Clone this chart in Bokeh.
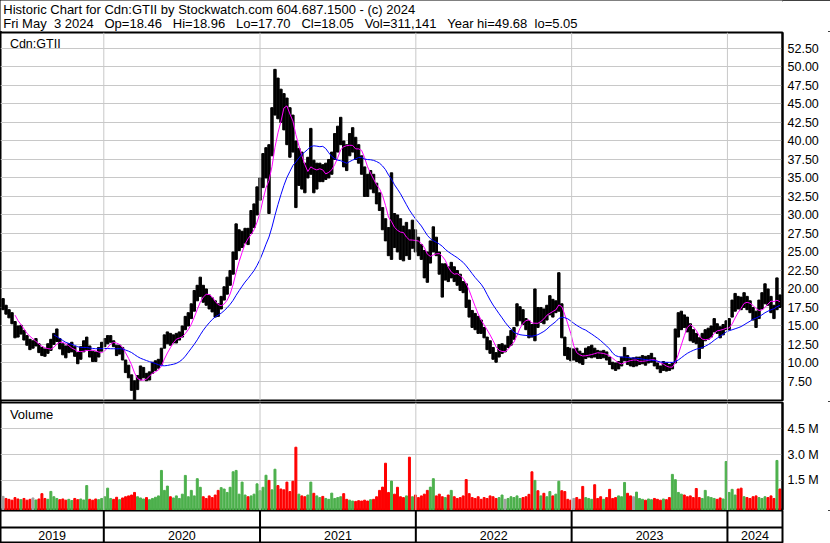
import re
import datetime as dt
import numpy as np
import pandas as pd
from bokeh.plotting import figure
from bokeh.layouts import column
from bokeh.models import (Range1d, FixedTicker, Span, Label, ColumnDataSource,
                          CustomJSTickFormatter, PrintfTickFormatter)
from bokeh.core.properties import value
from bokeh.embed import file_html
from bokeh.resources import INLINE

# ---------------- data (weekly bars) ----------------
first_week = "2019-05-10"   # Friday of the first weekly bar

high = [
    18.7, 17.8, 17.2, 16.8, 15.6, 15.0, 15.1, 14.4, 13.7, 13.2,
    13.0, 13.3, 12.6, 12.1, 11.9, 12.6, 13.2, 14.0, 14.6, 13.3,
    12.6, 12.3, 12.6, 12.8, 12.2, 11.4, 12.2, 13.0, 13.5, 12.3,
    11.6, 11.5, 12.1, 12.8, 13.3, 13.7, 13.7, 13.0, 12.4, 12.4,
    12.1, 10.4, 9.7, 8.4, 7.6, 8.3, 9.6, 9.4, 8.6, 8.8,
    10.1, 10.3, 10.5, 12.0, 13.8, 14.2, 14.0, 13.8, 14.0, 14.2,
    15.0, 16.3, 16.8, 18.0, 19.8, 20.5, 21.6, 20.5, 20.0, 19.2,
    18.8, 18.4, 18.0, 19.0, 20.3, 21.6, 22.5, 25.0, 28.8, 28.0,
    27.8, 28.2, 28.2, 30.6, 31.5, 33.8, 35.0, 38.3, 39.1, 39.5,
    44.5, 49.68, 48.5, 47.0, 46.4, 45.8, 44.5, 43.5, 40.0, 39.0,
    38.5, 37.0, 37.8, 41.7, 37.4, 37.0, 37.0, 36.8, 37.0, 37.5,
    38.5, 41.0, 42.0, 43.2, 40.0, 39.5, 41.0, 41.8, 40.5, 39.5,
    38.0, 36.5, 35.5, 36.0, 35.5, 34.3, 33.0, 31.0, 29.5, 28.3,
    35.7, 30.2, 30.0, 29.5, 28.5, 29.0, 28.0, 29.3, 28.0, 27.0,
    26.0, 25.2, 25.0, 26.5, 28.4, 27.0, 25.0, 23.4, 23.4, 23.0, 23.6,
    23.0,
    22.5, 22.0, 21.0, 20.7, 18.5, 17.1, 16.7, 16.3, 15.8, 14.8,
    13.5, 13.0, 12.1, 11.4, 12.5, 12.6, 12.4, 13.6, 14.4, 14.8,
    18.0, 17.6, 17.2, 16.0, 15.7, 15.2, 20.0, 17.5, 17.5, 17.3,
    17.8, 19.1, 18.6, 18.4, 22.2, 18.0, 13.5, 12.1, 12.0, 11.9,
    12.0, 11.6, 11.3, 12.0, 12.2, 12.4, 12.0, 11.7, 11.6, 11.7,
    11.5, 10.8, 10.1, 10.0, 10.2, 10.8, 12.1, 11.0, 10.6, 10.7,
    10.8, 10.8, 11.0, 10.9, 11.0, 11.3, 10.7, 10.0, 9.6, 10.2,
    10.0, 9.8, 10.0, 14.6, 16.8, 17.0, 16.5, 16.2, 15.3, 14.5,
    14.0, 13.4, 14.0, 14.5, 14.7, 15.0, 16.0, 15.3, 14.9, 15.2,
    15.7, 16.0, 18.5, 19.4, 19.0, 18.9, 19.5, 19.0, 18.4, 17.5,
    17.0, 18.5, 19.5, 20.7, 20.0, 19.0, 17.8, 21.5, 19.2,
]

low = [
    17.2, 16.6, 16.1, 15.3, 13.4, 13.5, 13.9, 13.1, 12.4, 11.8,
    12.0, 12.3, 11.4, 11.0, 10.9, 11.3, 11.7, 12.5, 12.9, 11.9,
    11.1, 10.7, 11.4, 11.5, 10.9, 9.9, 10.5, 11.5, 11.8, 10.8,
    10.2, 10.2, 10.8, 11.6, 12.2, 12.6, 12.8, 12.2, 11.0, 11.2,
    10.4, 8.7, 8.0, 6.3, 5.05, 6.4, 7.7, 8.0, 7.6, 7.7,
    8.6, 9.0, 9.3, 9.8, 12.0, 12.6, 12.4, 12.7, 12.7, 13.1,
    13.5, 14.5, 15.0, 16.0, 17.0, 18.4, 19.0, 18.2, 17.8, 17.3,
    16.9, 16.2, 16.3, 17.3, 18.5, 19.3, 20.5, 22.0, 24.0, 25.2,
    25.6, 26.2, 26.0, 27.5, 28.3, 30.0, 32.0, 33.7, 35.0, 30.2,
    38.0, 43.5, 43.0, 42.5, 41.5, 39.5, 37.8, 38.5, 31.0, 34.0,
    33.5, 33.0, 35.0, 35.5, 33.0, 33.5, 34.5, 34.5, 34.8, 35.0,
    35.5, 37.5, 38.5, 39.5, 36.5, 36.0, 38.0, 38.5, 37.5, 37.0,
    35.5, 32.5, 32.5, 33.5, 33.0, 31.5, 30.6, 28.0, 26.5, 24.5,
    24.0, 25.6, 25.0, 24.0, 23.8, 24.5, 24.0, 25.5, 25.0, 24.5,
    24.0, 21.5, 20.9, 23.5, 25.0, 24.5, 22.0, 18.9, 21.2, 21.0, 21.5,
    21.0,
    20.5, 19.8, 19.5, 17.5, 16.2, 14.8, 14.5, 14.0, 14.0, 13.4,
    11.8, 11.3, 10.5, 10.1, 10.8, 11.3, 11.5, 12.1, 12.4, 13.2,
    15.0, 15.7, 15.2, 14.5, 13.4, 13.5, 13.0, 14.8, 15.5, 15.3,
    15.8, 16.5, 16.2, 16.8, 17.0, 13.4, 11.0, 10.5, 10.3, 10.4,
    10.2, 10.0, 9.8, 10.6, 10.8, 10.7, 10.8, 10.6, 10.6, 10.7,
    10.4, 9.8, 9.2, 9.0, 9.2, 9.6, 10.3, 9.8, 9.6, 9.5,
    9.6, 9.8, 9.9, 9.7, 10.0, 10.1, 9.6, 9.2, 8.7, 9.0,
    8.9, 9.0, 9.2, 10.0, 13.5, 14.5, 14.8, 14.2, 13.0, 12.8,
    12.6, 10.6, 12.0, 13.0, 13.2, 13.5, 14.2, 14.0, 13.4, 13.8,
    14.5, 14.5, 16.2, 17.0, 17.3, 17.2, 17.5, 17.2, 16.8, 15.8,
    14.8, 16.0, 17.3, 18.0, 17.8, 16.8, 16.0, 17.2, 17.5,
]

# volume, millions of shares (largest daily volume seen in each week)
volume_m = [
    0.57, 0.45, 0.40, 0.35, 0.50, 0.42, 0.38, 0.45, 0.35, 0.40, 0.48, 0.36, 0.42,
    0.73, 0.45, 0.40, 0.86,
    0.55, 0.45, 0.38, 0.42, 0.35, 0.40, 0.33, 0.45, 0.38, 0.42, 0.36,
    1.20,
    0.40, 0.35, 0.42, 0.38, 0.45, 0.55,
    1.05,
    0.45, 0.40, 0.52, 0.38, 0.48, 0.55, 0.60, 0.65,
    0.80,
    0.55, 0.48, 0.42, 0.50, 0.38, 0.45, 0.52, 0.60,
    2.08, 0.92, 1.17,
    0.55, 0.48, 0.60, 0.45, 0.70,
    1.79, 0.55, 0.92, 0.60, 1.60, 1.10,
    0.55, 0.45, 0.60, 0.50, 0.65,
    0.92, 1.08, 1.00, 0.80, 1.10, 2.00, 2.08, 0.70, 1.40,
    0.65, 0.55, 0.60, 0.70,
    1.30, 0.90, 1.10, 1.80, 1.50, 0.95, 2.15, 1.20, 1.00, 0.95, 1.40, 0.85, 1.45, 3.43,
    0.70, 0.60, 0.55, 0.65,
    1.40, 0.75, 0.60, 0.50, 0.57, 0.45, 0.40, 0.76, 0.45, 0.50, 0.55, 0.73,
    0.40, 0.35, 0.30, 0.28, 0.32, 0.30, 0.35, 0.30, 0.38, 0.40, 0.55,
    0.92, 1.11, 2.50, 0.80, 1.46, 0.70, 1.10, 0.55, 0.50, 0.60, 2.85,
    0.55, 0.65, 0.50, 0.60, 0.70, 0.92, 1.11, 1.60,
    0.60, 0.70, 0.55, 0.50, 0.65, 0.92, 0.55, 0.45, 0.50, 0.60, 1.55, 0.73,
    0.50, 0.45, 0.55, 0.40, 0.50, 0.45, 0.60, 0.55, 0.45, 0.50, 0.65, 0.40, 0.45, 0.55, 0.50, 0.60, 0.45, 0.50, 0.55,
    0.69, 2.00, 1.50, 0.90, 0.60, 0.75, 0.55, 0.85, 0.60, 0.70, 1.45, 0.90, 0.85,
    0.40, 0.35, 0.45, 0.50, 0.40, 1.15, 0.50, 0.45, 0.40, 1.25,
    0.45, 0.55, 0.40, 0.50, 0.98, 0.45, 0.50, 0.60, 0.55, 1.38, 0.75, 0.60, 0.55, 0.82,
    0.45, 0.40, 0.35, 0.42, 0.38, 0.45, 0.40, 0.35, 0.42, 0.38, 0.50,
    1.85, 1.54, 0.80, 0.70, 0.65, 0.55, 0.60, 0.50, 1.03, 0.50, 0.45, 0.92,
    0.55, 0.50, 0.45, 0.40, 0.48, 0.42, 2.60, 0.80, 0.98, 0.65, 1.00, 1.05,
    0.55, 0.50, 0.45, 0.55, 0.60, 0.50, 0.45, 0.55, 0.50, 0.60, 0.45,
    2.66, 1.00,
]

year_starts = ["2020-01-01", "2021-01-01", "2022-01-01", "2023-01-01", "2024-01-01"]
year_labels = ["2019", "2020", "2021", "2022", "2023", "2024"]
price_ticks = [7.5, 10, 12.5, 15, 17.5, 20, 22.5, 25, 27.5, 30, 32.5, 35,
               37.5, 40, 42.5, 45, 47.5, 50, 52.5]
volume_ticks = [1.5e6, 3.0e6, 4.5e6]
fast_weeks = 5
slow_weeks = 18

title_line1 = "Historic Chart for Cdn:GTII by Stockwatch.com 604.687.1500 - (c) 2024"
title_line2 = ("Fri May  3 2024   Op=18.46   Hi=18.96   Lo=17.70   Cl=18.05   "
               "Vol=311,141   Year hi=49.68  lo=5.05")
symbol_label = "Cdn:GTII"
volume_label = "Volume"

assert len(high) == len(low) == len(volume_m) == 261

# ---------------- derived ----------------
dates = pd.date_range(first_week, periods=len(high), freq="7D")
H = np.array(high)
L = np.array(low)
mid = (H + L) / 2.0
ma_fast = pd.Series(mid).rolling(fast_weeks).mean().to_numpy()
ma_slow = pd.Series(mid).rolling(slow_weeks).mean().to_numpy()
chg = np.diff(mid, prepend=mid[0])
GREEN, RED, GREY = "#4cb04c", "#ff0000", "#a0a0a0"
vol_colors = [GREEN if c > 0 else (RED if c < 0 else GREY) for c in chg]

src = ColumnDataSource(dict(date=dates, high=H, low=L, ma_fast=ma_fast,
                            ma_slow=ma_slow, vol=np.array(volume_m) * 1e6,
                            vcol=vol_colors))

def ms(s):
    return pd.Timestamp(s).value / 1e6

FONT = "Liberation Sans"
GRID = "#c8c8c8"
TOTAL_W = 830
RIGHT_W = 48
DAY = 86400000.0

x_start = dt.datetime(2019, 5, 4)
x_end = dt.datetime(2024, 5, 9)
xr = Range1d(x_start, x_end)


def keep_spaces(s):
    return re.sub(r" {2,}", lambda m: " " + "\u00a0" * (len(m.group()) - 1), s)


def style_right_axis(axis, ticks, formatter):
    axis.ticker = FixedTicker(ticks=ticks)
    axis.formatter = formatter
    axis.major_tick_out = 0
    axis.major_tick_in = 0
    axis.minor_tick_out = 0
    axis.minor_tick_in = 0
    axis.major_tick_line_color = None
    axis.minor_tick_line_color = None
    axis.axis_line_width = 2
    axis.axis_line_color = "black"
    axis.major_label_standoff = 5
    axis.major_label_text_font = FONT
    axis.major_label_text_font_size = "12.5px"
    axis.major_label_text_color = "black"


# ---------------- header ----------------
HDR_H = 31
hdr = figure(width=TOTAL_W, height=HDR_H, x_range=Range1d(0, TOTAL_W), y_range=Range1d(0, HDR_H),
             toolbar_location=None, output_backend="svg", min_border=0,
             x_axis_location=None, y_axis_location=None)
hdr.grid.visible = False
hdr.outline_line_color = None
hdr.add_layout(Label(x=3, y=21.6, text=title_line1, text_font=FONT, text_font_size="13px",
                     text_baseline="alphabetic", text_color="black"))
hdr.add_layout(Label(x=3, y=8.0, text=keep_spaces(title_line2), text_font=FONT,
                     text_font_size="13px", text_baseline="alphabetic", text_color="black"))

# ---------------- price panel ----------------
pp = figure(width=TOTAL_W, height=370, x_range=xr, y_range=Range1d(4.93, 54.66),
            x_axis_type="datetime", x_axis_location=None, y_axis_location="right",
            toolbar_location=None, output_backend="svg",
            min_border_left=0, min_border_top=1, min_border_bottom=1, min_border_right=RIGHT_W)
pp.xgrid.visible = False
pp.ygrid.ticker = FixedTicker(ticks=price_ticks)
pp.ygrid.grid_line_color = GRID
pp.outline_line_color = "black"
pp.outline_line_width = 2
style_right_axis(pp.yaxis[0], price_ticks, PrintfTickFormatter(format="%.2f"))
for y in year_starts:
    pp.add_layout(Span(location=ms(y), dimension="height", line_color=GRID, line_width=1))
pp.vbar(x="date", width=5.6 * DAY, top="high", bottom="low", color="black", source=src)
pp.line(x="date", y="ma_fast", color="#ff00ff", line_width=1, source=src)
pp.line(x="date", y="ma_slow", color="#0000ff", line_width=1, source=src)
pp.add_layout(Label(x=ms("2019-05-26"), y=53.15, text=symbol_label, text_font=FONT,
                    text_font_size="12.5px", text_baseline="alphabetic", text_color="black"))

# ---------------- volume panel ----------------
vstart = -0.25e6
pv = figure(width=TOTAL_W, height=109, x_range=xr, y_range=Range1d(vstart, 6.03e6),
            x_axis_type="datetime", x_axis_location=None, y_axis_location="right",
            toolbar_location=None, output_backend="svg",
            min_border_left=0, min_border_top=1, min_border_bottom=0, min_border_right=RIGHT_W)
pv.xgrid.visible = False
pv.ygrid.ticker = FixedTicker(ticks=volume_ticks)
pv.ygrid.grid_line_color = GRID
pv.outline_line_color = "black"
pv.outline_line_width = 2
style_right_axis(pv.yaxis[0], volume_ticks,
                 CustomJSTickFormatter(code="return (tick/1e6).toFixed(1) + ' M';"))
for y in year_starts:
    pv.add_layout(Span(location=ms(y), dimension="height", line_color=GRID, line_width=1))
pv.vbar(x="date", width=4.6 * DAY, top="vol", bottom=vstart, color="vcol", source=src)
pv.add_layout(Label(x=ms("2019-05-26"), y=5.32e6, text=volume_label, text_font=FONT,
                    text_font_size="13px", text_baseline="alphabetic", text_color="black"))

# ---------------- year strip ----------------
pb = figure(width=TOTAL_W, height=33, x_range=xr, y_range=Range1d(0, 33),
            x_axis_type="datetime", x_axis_location=None, y_axis_location=None,
            toolbar_location=None, output_backend="svg",
            min_border_left=0, min_border_top=0, min_border_bottom=0, min_border_right=RIGHT_W)
pb.grid.visible = False
pb.outline_line_color = "black"
pb.outline_line_width = 2
pb.add_layout(Span(location=16, dimension="width", line_color="black", line_width=2))
for y in year_starts:
    pb.add_layout(Span(location=ms(y), dimension="height", line_color="black", line_width=2))
bounds = [ms(x_start)] + [ms(y) for y in year_starts] + [ms(x_end)]
centers = [(a + b) / 2 for a, b in zip(bounds[:-1], bounds[1:])]
pb.text(x=centers, y=[8.5] * len(centers), text=year_labels, text_font=value(FONT),
        text_font_size="12.5px", text_align="center", text_baseline="middle", text_color="black")

layout = column(hdr, pp, pv, pb, spacing=0,
                styles={"outline": "2px solid black", "outline-offset": "-2px"})

open("out.html", "w").write(file_html(layout, INLINE))
